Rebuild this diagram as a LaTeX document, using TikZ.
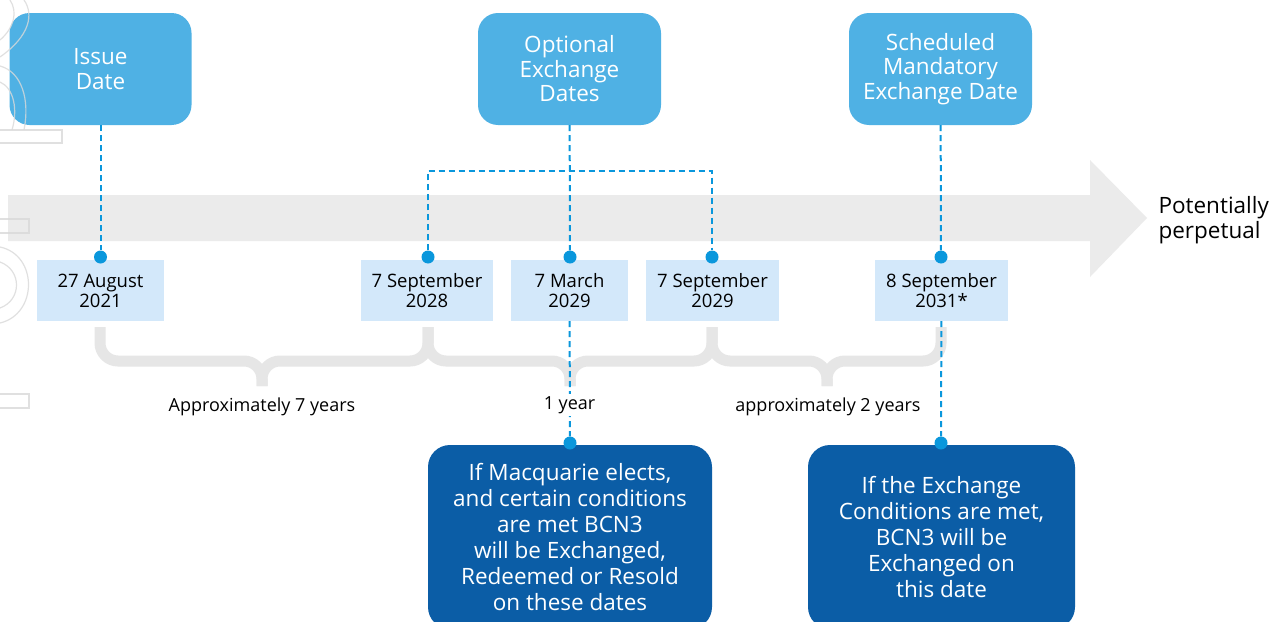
\documentclass[tikz,border=0pt]{standalone}
\usepackage{fontspec}
\setmainfont{Open Sans}
\usepackage{tikz}
\usetikzlibrary{positioning,calc}

\definecolor{topblue}{HTML}{4FB1E4}
\definecolor{deepblue}{HTML}{0B5DA6}
\definecolor{dotblue}{HTML}{0A97DC}
\definecolor{datefill}{HTML}{D3E8FA}
\definecolor{bandgray}{HTML}{EBEBEB}
\definecolor{bracegray}{HTML}{E6E6E6}
\definecolor{markgray}{HTML}{D9D9D9}

\begin{document}
\begin{tikzpicture}[
    x=1pt, y=-1pt,
    topbox/.style={rectangle, fill=topblue, rounded corners=20pt, minimum width=182pt, minimum height=112pt, align=center, text=white, font=\fontsize{22.5}{24.5}\selectfont},
    datebox/.style={rectangle, fill=datefill, minimum height=61pt, align=center, font=\fontsize{18.5}{20}\selectfont},
    infobox/.style={rectangle, fill=deepblue, rounded corners=22pt, minimum height=184pt, align=center, text=white, font=\fontsize{22.5}{26}\selectfont},
    datedot/.style={circle, fill=dotblue, inner sep=0pt, minimum size=13pt},
    link/.style={dotblue, line width=2pt, dash pattern=on 6pt off 4pt},
    bracepath/.style={bracegray, line width=11pt, rounded corners=18pt},
    spanlabel/.style={font=\fontsize{18}{20}\selectfont}
]
    \useasboundingbox (0,0) rectangle (1282,621);
    \clip (0,0) rectangle (1282,621);
    \fill[white] (0,0) rectangle (1282,621);

    % timeline band
    \fill[bandgray] (8,195) -- (1090,195) -- (1090,160) -- (1147,218) -- (1090,277) -- (1090,241) -- (8,241) -- cycle;

    % braces under the dates
    \foreach \l/\m/\r in {100/262/428, 428/570/712, 712/827/941} {
        \draw[bracepath] (\l,327) -- (\l,361) -- (\m,361) -- (\m,386);
        \draw[bracepath] (\r,327) -- (\r,361) -- (\m,361) -- (\m,386);
    }

    \node[topbox] (issue) at (100.5,69) {Issue\\Date};
    \node[topbox, minimum width=183pt] (option) at (569.5,69) {Optional\\Exchange\\Dates};
    \node[topbox, minimum width=183pt] (schedule) at (940.5,69) {Scheduled\\Mandatory\\Exchange Date};

    \node[datebox, minimum width=127pt] (aug21) at (100.5,290.5) {27 August\\2021};
    \node[datebox, minimum width=132pt] (sep28) at (427,290.5) {7 September\\2028};
    \node[datebox, minimum width=117pt] (mar29) at (569.5,290.5) {7 March\\2029};
    \node[datebox, minimum width=133pt] (sep29) at (712.5,290.5) {7 September\\2029};
    \node[datebox, minimum width=133pt] (sep31) at (941.5,290.5) {8 September\\2031*};

    \node[infobox, minimum width=284pt] (elect) at (570,537) {If Macquarie elects,\\and certain conditions\\are met BCN3\\will be Exchanged,\\Redeemed or Resold\\on these dates};
    \node[infobox, minimum width=267pt] (exch) at (941.5,537) {If the Exchange\\Conditions are met,\\BCN3 will be\\Exchanged on\\this date};

    \node[datedot] (p1) at (100.5,257) {};
    \node[datedot] (p2) at (428,257) {};
    \node[datedot] (p3) at (570,257) {};
    \node[datedot] (p4) at (712,257) {};
    \node[datedot] (p5) at (941,257) {};
    \node[datedot] (q1) at (570,443) {};
    \node[datedot] (q2) at (941,443) {};
    \coordinate (fork) at (570,171);

    \draw[link] (issue) -- (p1);
    \draw[link] (option) -- (p3);
    \draw[link] (p2) -- (p2 |- fork) -- (p4 |- fork) -- (p4);
    \draw[link] (schedule) -- (p5);
    \draw[link] (mar29) -- (q1);
    \draw[link] (sep31) -- (q2);

    \node[spanlabel] (seven) at (262,407) {Approximately 7 years};
    \node[spanlabel, fill=white, inner sep=2pt] (one) at (569.5,405) {1 year};
    \node[spanlabel] (two) at (828,407) {approximately 2 years};

    \node[anchor=west, align=left, font=\fontsize{22.5}{25}\selectfont] (perp) at (1155,220) {Potentially\\perpetual};

    % faint outline marks at the left edge
    \begin{scope}[markgray, line width=1.2pt, opacity=0.8]
        \draw (24,0) .. controls (34,14) and (30,36) .. (0,57);
        \draw (10,0) .. controls (18,12) and (14,28) .. (0,40);
        \draw (0,66) .. controls (22,72) and (30,100) .. (24,130);
        \draw (0,82) .. controls (14,88) and (18,110) .. (12,130);
        \draw (0,130) -- (62,130) -- (62,143) -- (0,143);
        \draw (0,219) -- (29,219) -- (29,233) -- (0,233);
        \draw (0,247) .. controls (38,255) and (38,314) .. (0,323);
        \draw (0,262) .. controls (22,270) and (22,300) .. (0,308);
        \draw (0,394) -- (29,394) -- (29,408) -- (0,408);
    \end{scope}
\end{tikzpicture}
\end{document}
